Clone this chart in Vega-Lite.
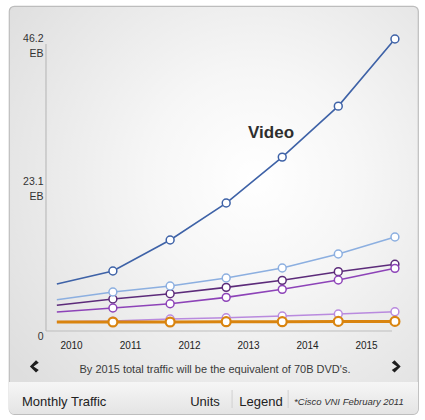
{
  "$schema": "https://vega.github.io/schema/vega-lite/v6.json",
  "description": "Cisco VNI monthly traffic forecast, 2010-2015.",
  "width": 409,
  "height": 408,
  "autosize": "none",
  "padding": {"left": 9, "top": 6, "right": 7, "bottom": 6},
  "background": "#ffffff",
  "datasets": {
    "traffic": [
      {"series": "Gaming", "year": 2009.76, "eb": 1.5},
      {"series": "Gaming", "year": 2010.71, "eb": 1.6},
      {"series": "Gaming", "year": 2011.68, "eb": 1.93},
      {"series": "Gaming", "year": 2012.63, "eb": 2.14},
      {"series": "Gaming", "year": 2013.58, "eb": 2.41},
      {"series": "Gaming", "year": 2014.53, "eb": 2.74},
      {"series": "Gaming", "year": 2015.49, "eb": 3.11},
      {"series": "VoIP", "year": 2009.76, "eb": 1.45},
      {"series": "VoIP", "year": 2010.71, "eb": 1.45},
      {"series": "VoIP", "year": 2011.68, "eb": 1.45},
      {"series": "VoIP", "year": 2012.63, "eb": 1.5},
      {"series": "VoIP", "year": 2013.58, "eb": 1.5},
      {"series": "VoIP", "year": 2014.53, "eb": 1.55},
      {"series": "VoIP", "year": 2015.49, "eb": 1.55},
      {"series": "File Sharing", "year": 2009.76, "eb": 4.14},
      {"series": "File Sharing", "year": 2010.71, "eb": 5.15},
      {"series": "File Sharing", "year": 2011.68, "eb": 6.0},
      {"series": "File Sharing", "year": 2012.63, "eb": 7.03},
      {"series": "File Sharing", "year": 2013.58, "eb": 8.16},
      {"series": "File Sharing", "year": 2014.53, "eb": 9.55},
      {"series": "File Sharing", "year": 2015.49, "eb": 10.74},
      {"series": "Managed IP", "year": 2009.76, "eb": 3.06},
      {"series": "Managed IP", "year": 2010.71, "eb": 3.7},
      {"series": "Managed IP", "year": 2011.68, "eb": 4.39},
      {"series": "Managed IP", "year": 2012.63, "eb": 5.42},
      {"series": "Managed IP", "year": 2013.58, "eb": 6.71},
      {"series": "Managed IP", "year": 2014.53, "eb": 8.21},
      {"series": "Managed IP", "year": 2015.49, "eb": 10.09},
      {"series": "Web and Data", "year": 2009.76, "eb": 5.04},
      {"series": "Web and Data", "year": 2010.71, "eb": 6.28},
      {"series": "Web and Data", "year": 2011.68, "eb": 7.24},
      {"series": "Web and Data", "year": 2012.63, "eb": 8.53},
      {"series": "Web and Data", "year": 2013.58, "eb": 10.14},
      {"series": "Web and Data", "year": 2014.53, "eb": 12.4},
      {"series": "Web and Data", "year": 2015.49, "eb": 15.13},
      {"series": "Video", "year": 2009.76, "eb": 7.57},
      {"series": "Video", "year": 2010.71, "eb": 9.66},
      {"series": "Video", "year": 2011.68, "eb": 14.65},
      {"series": "Video", "year": 2012.63, "eb": 20.6},
      {"series": "Video", "year": 2013.58, "eb": 28.0},
      {"series": "Video", "year": 2014.53, "eb": 36.2},
      {"series": "Video", "year": 2015.49, "eb": 47.0}
    ],
    "one": [{}]
  },
  "layer": [
    {
      "data": {"name": "one"},
      "mark": {
        "type": "rect",
        "cornerRadiusBottomLeft": 5,
        "cornerRadiusBottomRight": 5,
        "fill": {
          "gradient": "linear",
          "x1": 0, "y1": 0, "x2": 0, "y2": 1,
          "stops": [
            {"offset": 0, "color": "#f6f6f6"},
            {"offset": 1, "color": "#e4e4e4"}
          ]
        }
      },
      "encoding": {
        "x": {"value": 0},
        "x2": {"value": "width"},
        "y": {"datum": -8.21, "type": "quantitative"},
        "y2": {"datum": -13.36}
      }
    },
    {
      "data": {"name": "one"},
      "mark": {"type": "rule", "color": "#d0d0d0", "strokeWidth": 1},
      "encoding": {"x": {"datum": 2012.73, "type": "quantitative"}, "y": {"datum": -9.5, "type": "quantitative"}, "y2": {"datum": -12.4}}
    },
    {
      "data": {"name": "one"},
      "mark": {"type": "rule", "color": "#d0d0d0", "strokeWidth": 1},
      "encoding": {"x": {"datum": 2013.68, "type": "quantitative"}, "y": {"datum": -9.5, "type": "quantitative"}, "y2": {"datum": -12.4}}
    },
    {
      "data": {"name": "one"},
      "mark": {"type": "rule", "color": "#b4b4b4", "strokeWidth": 1},
      "encoding": {"x": {"datum": 2009.576, "type": "quantitative"}, "y": {"datum": 0, "type": "quantitative"}, "y2": {"datum": 46.2}}
    },
    {
      "data": {"name": "one"},
      "mark": {"type": "rule", "color": "#bdbdbd", "strokeWidth": 1},
      "encoding": {"x": {"datum": 2009.576, "type": "quantitative"}, "x2": {"datum": 2015.44}, "y": {"datum": 0, "type": "quantitative"}}
    },
    {
      "data": {"name": "traffic"},
      "mark": {"type": "line", "clip": false},
      "encoding": {
        "x": {
          "field": "year",
          "type": "quantitative",
          "scale": {"domain": [2008.949, 2015.881], "nice": false, "zero": false},
          "axis": {
            "orient": "bottom",
            "offset": -83,
            "values": [2010, 2011, 2012, 2013, 2014, 2015],
            "format": "d",
            "title": null,
            "domain": false,
            "ticks": false,
            "grid": false,
            "labelPadding": 9,
            "labelFontSize": 10,
            "labelColor": "#222222",
            "labelFont": "Liberation Sans"
          }
        },
        "y": {
          "field": "eb",
          "type": "quantitative",
          "scale": {"domain": [-13.36, 52.32], "nice": false, "zero": false},
          "axis": {
            "orient": "left",
            "offset": -37,
            "values": [0, 23.1, 46.2],
            "labelExpr": "datum.value == 0 ? '0' : [format(datum.value, '.1f'), 'EB']",
            "title": null,
            "domain": false,
            "ticks": false,
            "grid": false,
            "labelPadding": 3,
            "labelFontSize": 10.5,
            "labelLineHeight": 15,
            "labelBaseline": "middle",
            "labelOffset": {"condition": {"test": "datum.value == 0", "value": 5}, "value": -6},
            "labelColor": "#333333",
            "labelFont": "Liberation Sans"
          }
        },
        "color": {
          "field": "series",
          "type": "nominal",
          "legend": null,
          "sort": null,
          "scale": {
            "domain": ["Gaming", "VoIP", "File Sharing", "Managed IP", "Web and Data", "Video"],
            "range": ["#b98ade", "#d9840f", "#5c2b7a", "#8d43b8", "#8cafe0", "#3e62a7"]
          }
        },
        "strokeWidth": {"condition": {"test": "datum.series == 'VoIP'", "value": 3}, "value": 1.6}
      }
    },
    {
      "data": {"name": "traffic"},
      "transform": [{"filter": "datum.year > 2010"}],
      "mark": {"type": "point", "shape": "circle", "filled": false, "fill": "#ffffff", "fillOpacity": 1, "opacity": 1, "clip": false},
      "encoding": {
        "x": {"field": "year", "type": "quantitative"},
        "y": {"field": "eb", "type": "quantitative"},
        "color": {"field": "series", "type": "nominal", "legend": null},
        "size": {"condition": {"test": "datum.series == 'VoIP'", "value": 80}, "value": 62},
        "strokeWidth": {"condition": {"test": "datum.series == 'VoIP'", "value": 2.2}, "value": 1.5}
      }
    },
    {
      "data": {"name": "one"},
      "mark": {"type": "text", "text": "Video", "font": "Liberation Sans", "fontSize": 17, "fontWeight": "bold", "color": "#2e2e2e", "align": "center", "baseline": "middle"},
      "encoding": {"x": {"datum": 2013.39, "type": "quantitative"}, "y": {"datum": 31.87, "type": "quantitative"}}
    },
    {
      "data": {"name": "one"},
      "mark": {"type": "text", "text": "By 2015 total traffic will be the equivalent of 70B DVD's.", "font": "Liberation Sans", "fontSize": 11, "color": "#3a3a3a", "align": "center", "baseline": "middle"},
      "encoding": {"x": {"datum": 2012.44, "type": "quantitative"}, "y": {"datum": -6.28, "type": "quantitative"}}
    },
    {
      "data": {"name": "one"},
      "mark": {"type": "point", "shape": "M 0.45 -1 L 0.9 -0.6 L 0.05 0 L 0.9 0.6 L 0.45 1 L -0.55 0 Z", "filled": true, "color": "#1e1e1e", "size": 150, "opacity": 1},
      "encoding": {"x": {"datum": 2009.36, "type": "quantitative"}, "y": {"datum": -5.7, "type": "quantitative"}}
    },
    {
      "data": {"name": "one"},
      "mark": {"type": "point", "shape": "M -0.45 -1 L -0.9 -0.6 L -0.05 0 L -0.9 0.6 L -0.45 1 L 0.55 0 Z", "filled": true, "color": "#1e1e1e", "size": 150, "opacity": 1},
      "encoding": {"x": {"datum": 2015.53, "type": "quantitative"}, "y": {"datum": -5.7, "type": "quantitative"}}
    },
    {
      "data": {"name": "one"},
      "mark": {"type": "text", "text": "Monthly Traffic", "font": "Liberation Sans", "fontSize": 13, "color": "#222222", "align": "left", "baseline": "middle"},
      "encoding": {"x": {"datum": 2009.17, "type": "quantitative"}, "y": {"datum": -11.38, "type": "quantitative"}}
    },
    {
      "data": {"name": "one"},
      "mark": {"type": "text", "text": "Units", "font": "Liberation Sans", "fontSize": 13, "color": "#222222", "align": "center", "baseline": "middle"},
      "encoding": {"x": {"datum": 2012.27, "type": "quantitative"}, "y": {"datum": -11.38, "type": "quantitative"}}
    },
    {
      "data": {"name": "one"},
      "mark": {"type": "text", "text": "Legend", "font": "Liberation Sans", "fontSize": 13, "color": "#222222", "align": "center", "baseline": "middle"},
      "encoding": {"x": {"datum": 2013.22, "type": "quantitative"}, "y": {"datum": -11.38, "type": "quantitative"}}
    },
    {
      "data": {"name": "one"},
      "mark": {"type": "text", "text": "*Cisco VNI February 2011", "font": "Liberation Sans", "fontSize": 9.5, "fontStyle": "italic", "color": "#333333", "align": "center", "baseline": "middle"},
      "encoding": {"x": {"datum": 2014.71, "type": "quantitative"}, "y": {"datum": -11.38, "type": "quantitative"}}
    }
  ],
  "config": {
    "view": {
      "cornerRadius": 5,
      "stroke": "#bdbdbd",
      "strokeWidth": 1.2,
      "fill": {
        "gradient": "radial",
        "x1": 0.6, "y1": 0.42, "r1": 0,
        "x2": 0.6, "y2": 0.42, "r2": 0.75,
        "stops": [
          {"offset": 0, "color": "#ffffff"},
          {"offset": 0.35, "color": "#f6f6f6"},
          {"offset": 1, "color": "#dedede"}
        ]
      }
    }
  }
}
